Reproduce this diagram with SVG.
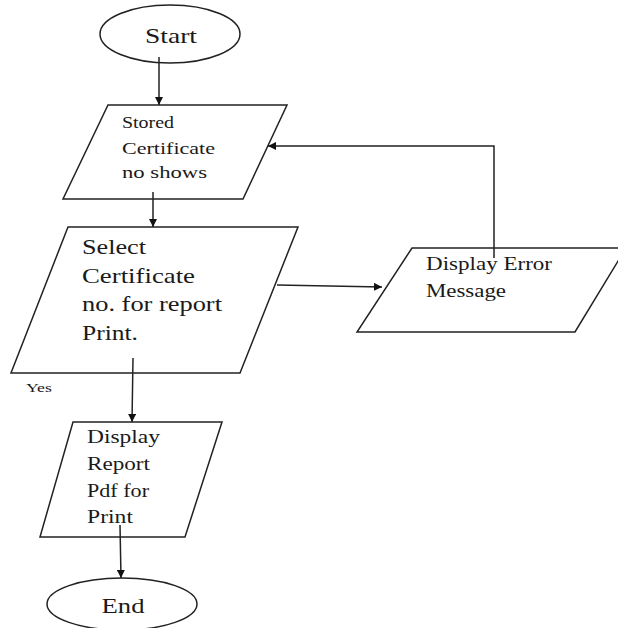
<svg xmlns="http://www.w3.org/2000/svg" width="618" height="628" viewBox="0 0 618 628">
<style>
.shape{fill:#fff;stroke:#222;stroke-width:1.5}
.line{fill:none;stroke:#222;stroke-width:1.5}
.t{font-family:"Liberation Serif","Times New Roman",serif;fill:#1a1a1a}
</style>
<defs>
<marker id="ah" viewBox="0 0 10 10" refX="10" refY="5" markerWidth="8" markerHeight="8" markerUnits="userSpaceOnUse" orient="auto">
<path d="M0,0 L10,5 L0,10 z" fill="#111"/>
</marker>
</defs>
<rect width="618" height="628" fill="#fff"/>
<g id="start">
<ellipse class="shape" cx="170" cy="34" rx="70" ry="29"/>
<text class="t" x="171" y="43" font-size="22" text-anchor="middle" textLength="52" lengthAdjust="spacingAndGlyphs">Start</text>
</g>
<g id="stored">
<polygon class="shape" points="108,105 287,105 243,199 63,199"/>
<text class="t" font-size="17">
<tspan x="122" y="128" textLength="52" lengthAdjust="spacingAndGlyphs">Stored</tspan>
<tspan x="122" y="154" textLength="93" lengthAdjust="spacingAndGlyphs">Certificate</tspan>
<tspan x="122" y="178" textLength="85" lengthAdjust="spacingAndGlyphs">no shows</tspan>
</text>
</g>
<g id="select">
<polygon class="shape" points="68,227 298,227 240,373 11,373"/>
<text class="t" font-size="21">
<tspan x="82" y="254" textLength="64" lengthAdjust="spacingAndGlyphs">Select</tspan>
<tspan x="82" y="283" textLength="113" lengthAdjust="spacingAndGlyphs">Certificate</tspan>
<tspan x="82" y="311" textLength="140" lengthAdjust="spacingAndGlyphs">no. for report</tspan>
<tspan x="82" y="340" textLength="56" lengthAdjust="spacingAndGlyphs">Print.</tspan>
</text>
<text class="t" x="26" y="392" font-size="12" textLength="26" lengthAdjust="spacingAndGlyphs">Yes</text>
</g>
<g id="error">
<polygon class="shape" points="412,248 626,248 575,332 357,332"/>
<text class="t" font-size="19">
<tspan x="426" y="270" textLength="126" lengthAdjust="spacingAndGlyphs">Display Error</tspan>
<tspan x="426" y="297" textLength="80" lengthAdjust="spacingAndGlyphs">Message</tspan>
</text>
</g>
<g id="report">
<polygon class="shape" points="73,422 222,422 185,537 40,537"/>
<text class="t" font-size="18">
<tspan x="87" y="443" textLength="73" lengthAdjust="spacingAndGlyphs">Display</tspan>
<tspan x="87" y="470" textLength="63" lengthAdjust="spacingAndGlyphs">Report</tspan>
<tspan x="87" y="497" textLength="62" lengthAdjust="spacingAndGlyphs">Pdf for</tspan>
<tspan x="87" y="523" textLength="46" lengthAdjust="spacingAndGlyphs">Print</tspan>
</text>
</g>
<g id="end">
<ellipse class="shape" cx="122" cy="604" rx="75" ry="26"/>
<text class="t" x="123" y="613" font-size="22" text-anchor="middle" textLength="43" lengthAdjust="spacingAndGlyphs">End</text>
</g>
<g id="connectors">
<line class="line" x1="159" y1="57" x2="159" y2="105" marker-end="url(#ah)"/>
<line class="line" x1="153" y1="192" x2="153" y2="227" marker-end="url(#ah)"/>
<line class="line" x1="277" y1="285" x2="382" y2="287" marker-end="url(#ah)"/>
<polyline class="line" points="494,258 494,146 268,146" marker-end="url(#ah)"/>
<line class="line" x1="133" y1="358" x2="132" y2="422" marker-end="url(#ah)"/>
<line class="line" x1="120" y1="525" x2="121" y2="578" marker-end="url(#ah)"/>
</g>
</svg>
